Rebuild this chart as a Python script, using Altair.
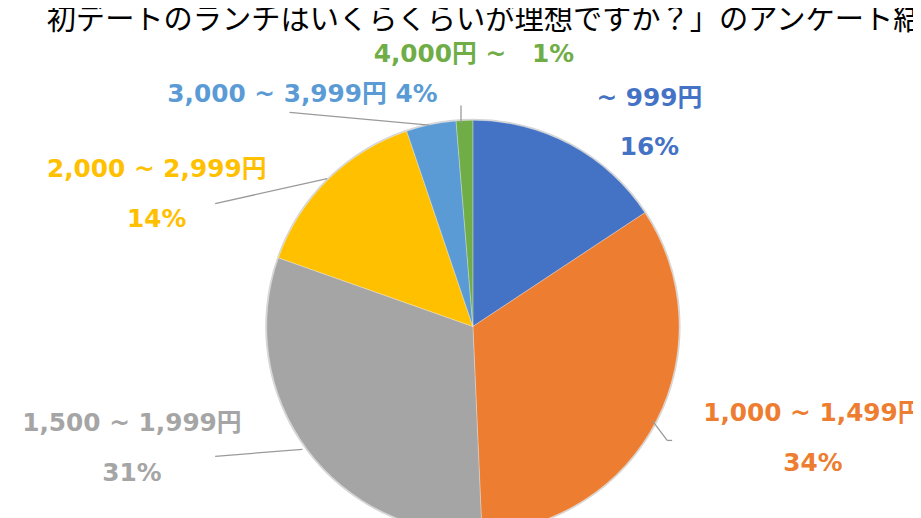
import altair as alt
import pandas as pd
import math

# ---- data ----
categories = ["~ 999円", "1,000 ~ 1,499円", "1,500 ~ 1,999円", "2,000 ~ 2,999円", "3,000 ~ 3,999円", "4,000円 ~"]
shares = [15.7, 33.6, 31.1, 14.4, 3.9, 1.3]
pct_labels = ["16%", "34%", "31%", "14%", "4%", "1%"]
colors = ["#4472C4", "#ED7D31", "#A5A5A5", "#FFC000", "#5B9BD5", "#70AD47"]
title_text = "初デートのランチはいくらくらいが理想ですか？」のアンケート結果"

# ---- layout (chart pixel space) ----
W, H = 913, 510
CX, CY, R = 469, 319, 208
# label positions: (x center, y line1, y line2, single-line?)
label_layout = [
    (647, 89, 138, False),
    (812, 406, 457, False),
    (125, 416, 467, False),
    (150, 160, 211, False),
    (297, 85, None, True),
    (470, 44, None, True),
]
leader_segments = [
    (284, 103, 425, 116),
    (457, 96, 457, 114),
    (209, 195, 322, 170),
    (209, 450, 297, 443),
    (650, 414, 665, 434),
    (665, 434, 670, 434),
]

pie_df = pd.DataFrame({"cat": categories, "share": shares, "idx": list(range(len(categories)))})

rows = []
for i, (lx, y1, y2, single) in enumerate(label_layout):
    if single:
        sep = " " + "\u00a0" * 2 if i == 5 else " "
        rows.append({"x": lx, "y": y1, "t": categories[i] + sep + pct_labels[i], "cat": categories[i]})
    else:
        rows.append({"x": lx, "y": y1, "t": categories[i], "cat": categories[i]})
        rows.append({"x": lx, "y": y2, "t": pct_labels[i], "cat": categories[i]})
label_df = pd.DataFrame(rows)

seg_df = pd.DataFrame(leader_segments, columns=["x", "y", "x2", "y2"])

color_scale = alt.Scale(domain=categories, range=colors)

shadow = alt.Chart(pd.DataFrame({"a": [0]})).mark_arc(
    radius=R + 1.5, theta=0, theta2=2 * math.pi, color="#d4d4d4"
).encode(x=alt.value(CX), y=alt.value(CY))

pie = alt.Chart(pie_df).mark_arc(radius=R, stroke="#ffffff", strokeWidth=0.3).encode(
    theta=alt.Theta("share:Q", stack=True),
    order=alt.Order("idx:Q"),
    color=alt.Color("cat:N", scale=color_scale, legend=None, sort=categories),
    x=alt.value(CX),
    y=alt.value(CY),
)

lines = alt.Chart(seg_df).mark_rule(color="#9a9a9a", strokeWidth=1.3).encode(
    x=alt.X("x:Q", scale=None, axis=None),
    y=alt.Y("y:Q", scale=None, axis=None),
    x2="x2:Q",
    y2="y2:Q",
)

labels = alt.Chart(label_df).mark_text(
    font="DejaVu Sans, Noto Sans CJK JP", fontSize=25, fontWeight="bold",
    align="center", baseline="middle"
).encode(
    x=alt.X("x:Q", scale=None, axis=None),
    y=alt.Y("y:Q", scale=None, axis=None),
    text="t:N",
    color=alt.Color("cat:N", scale=color_scale, legend=None),
)

title = alt.Chart(pd.DataFrame({"t": [title_text]})).mark_text(
    font="Noto Sans CJK JP", fontSize=29.5, align="left", baseline="alphabetic", color="#000000"
).encode(x=alt.value(39), y=alt.value(19), text="t:N")

chart = alt.layer(shadow, pie, lines, labels, title).properties(
    width=W, height=H, autosize=alt.AutoSizeParams(type="none"), padding=0
).configure_view(stroke=None)

chart.save("out.html", embed_options={"renderer": "svg", "actions": False})
